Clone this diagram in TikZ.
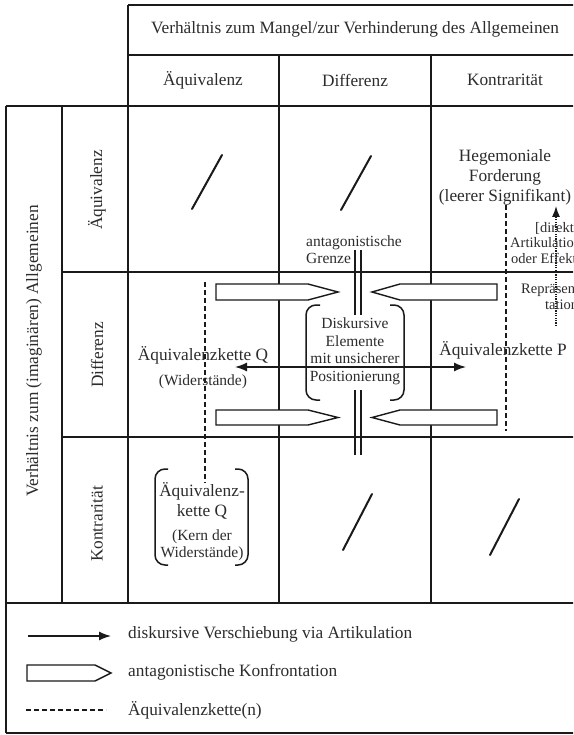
\documentclass[tikz,border=0pt]{standalone}
\usepackage{fontspec}
\setmainfont{Liberation Serif}
\usetikzlibrary{arrows.meta}
\definecolor{ink}{HTML}{1A1A1A}
\definecolor{txt}{HTML}{2C2C2C}
\begin{document}
\begin{tikzpicture}[x=1pt,y=-1pt,
  gridline/.style={line width=1.4pt, draw=ink},
  big/.style={font=\fontsize{17.3}{20}\selectfont, text=txt, inner sep=0pt, align=center},
  mid/.style={font=\fontsize{15.5}{17.5}\selectfont, text=txt, inner sep=0pt, align=center},
  small/.style={font=\fontsize{14.5}{15}\selectfont, text=txt, inner sep=0pt, anchor=west},
  slashmark/.style={line width=2pt, draw=ink, line cap=round},
  pencil/.style={draw=ink, line width=1.4pt, fill=white},
  chainline/.style={draw=ink, line width=1.3pt, dash pattern=on 5pt off 3pt},
  bracketline/.style={draw=ink, line width=1.5pt, rounded corners=10pt},
  shiftarrow/.style={draw=ink, line width=1.4pt, -{Latex[length=12pt,width=9pt]}},
  borderline/.style={draw=ink, line width=1.6pt}
]
\useasboundingbox (0,0) rectangle (573,735);
\clip (0,0) rectangle (573,735);
\fill[white] (0,0) rectangle (573,735);

% ---------- table grid ----------
\draw[gridline] (128,5) -- (600,5);
\draw[gridline] (128,55) -- (600,55);
\draw[gridline] (6,106) -- (600,106);
\draw[gridline] (62,272) -- (600,272);
\draw[gridline] (62,437) -- (600,437);
\draw[gridline] (6,603) -- (600,603);
\draw[gridline] (6,733) -- (600,733);
\draw[gridline] (6,106) -- (6,733);
\draw[gridline] (62,106) -- (62,603);
\draw[gridline] (128,5) -- (128,603);
\draw[gridline] (279,55) -- (279,603);
\draw[gridline] (431,55) -- (431,603);

% ---------- headers ----------
\node[big] (hTop) at (355,29) {Verhältnis zum Mangel/zur Verhinderung des Allgemeinen};
\node[big] (hC1) at (203,80) {Äquivalenz};
\node[big] (hC2) at (355,80) {Differenz};
\node[big] (hC3) at (505,80) {Kontrarität};
\node[big, rotate=90] (hLeft) at (34,351) {Verhältnis zum (imaginären) Allgemeinen};
\node[big, rotate=90] (hR1) at (97,190) {Äquivalenz};
\node[big, rotate=90] (hR2) at (97,355) {Differenz};
\node[big, rotate=90] (hR3) at (97,524) {Kontrarität};

% ---------- empty cells ----------
\coordinate (s1a) at (192,209); \coordinate (s1b) at (222,155);
\coordinate (s2a) at (341,210); \coordinate (s2b) at (371,156);
\coordinate (s3a) at (343,550); \coordinate (s3b) at (372,494);
\coordinate (s4a) at (490,555); \coordinate (s4b) at (519,499);
\draw[slashmark] (s1a) -- (s1b);
\draw[slashmark] (s2a) -- (s2b);
\draw[slashmark] (s3a) -- (s3b);
\draw[slashmark] (s4a) -- (s4b);

% ---------- hegemonial demand ----------
\node[big] (heg) at (505,177) {Hegemoniale\\Forderung\\(leerer Signifikant)};

% ---------- chains of equivalence (dashed) ----------
\coordinate (qTop) at (205,282);
\coordinate (qBot) at (205,483);
\coordinate (pTop) at (506,205);
\coordinate (pBot) at (506,431);
\draw[chainline] (qTop) -- (qBot);
\draw[chainline] (pTop) -- (pBot);

% ---------- representation arrow (dotted) ----------
\coordinate (repB) at (556,326);
\coordinate (repT) at (556,206);
\draw[draw=ink, line width=1.3pt, dash pattern=on 1.2pt off 1.2pt, -{Latex[length=11pt,width=8pt]}] (repB) -- (repT);
\node[small] (r1) at (535,228) {[direkte};
\node[small] (r2) at (510,243) {Artikulation};
\node[small] (r3) at (511,258) {oder Effekte};
\node[small] (r4) at (521,290) {Repräsen-};
\node[small] (r5) at (545,305) {tation]};

% ---------- antagonistic border ----------
\node[mid, anchor=west, align=left] (grenze) at (306,249.5) {antagonistische\\Grenze};
\draw[borderline] (355,250) -- (355,315);
\draw[borderline] (361,250) -- (361,315);
\draw[borderline] (355,390) -- (355,455);
\draw[borderline] (361,390) -- (361,455);

% ---------- confrontation pencils ----------
\draw[pencil] (216,284) -- (308,284) -- (338,292) -- (308,300) -- (216,300) -- cycle;
\draw[pencil] (216,410) -- (308,410) -- (338,417.5) -- (308,425) -- (216,425) -- cycle;
\draw[pencil] (497,284) -- (400,284) -- (372,292) -- (400,300) -- (497,300) -- cycle;
\draw[pencil] (497,410) -- (400,410) -- (372,417.5) -- (400,425) -- (497,425) -- cycle;

% ---------- central uncertain elements ----------
\coordinate (aL) at (235,367);
\coordinate (aR) at (466,367);
\draw[draw=ink, line width=1.4pt, {Latex[length=12pt,width=9pt]}-{Latex[length=12pt,width=9pt]}] (aL) -- (aR);
\node[mid] (disk) at (355,351.5) {Diskursive\\Elemente\\mit unsicherer\\Positionierung};
\draw[bracketline] (320,305) -- (306,305) -- (306,400) -- (320,400);
\draw[bracketline] (390,305) -- (404,305) -- (404,400) -- (390,400);

% ---------- chain labels ----------
\node[big] (kQ) at (203,355) {Äquivalenzkette Q};
\node[mid] (kQs) at (203,382) {(Widerstände)};
\node[big] (kP) at (503,350) {Äquivalenzkette P};

% ---------- core of resistance ----------
\node[big] (core1) at (202,501) {Äquivalenz-\\kette Q};
\node[mid] (core2) at (202,545.5) {(Kern der\\Widerstände)};
\draw[bracketline] (168,469) -- (155,469) -- (155,565) -- (168,565);
\draw[bracketline] (235,469) -- (248,469) -- (248,565) -- (235,565);

% ---------- legend ----------
\coordinate (l1a) at (28,636); \coordinate (l1b) at (111,636);
\draw[shiftarrow] (l1a) -- (l1b);
\node[big, anchor=west] (leg1) at (128,634) {diskursive Verschiebung via Artikulation};
\draw[pencil] (27,665) -- (95,665) -- (111,673) -- (95,681) -- (27,681) -- cycle;
\node[big, anchor=west] (leg2) at (128,672) {antagonistische Konfrontation};
\coordinate (l3a) at (26,710); \coordinate (l3b) at (106,710);
\draw[chainline] (l3a) -- (l3b);
\node[big, anchor=west] (leg3) at (128,710) {Äquivalenzkette(n)};
\end{tikzpicture}
\end{document}
